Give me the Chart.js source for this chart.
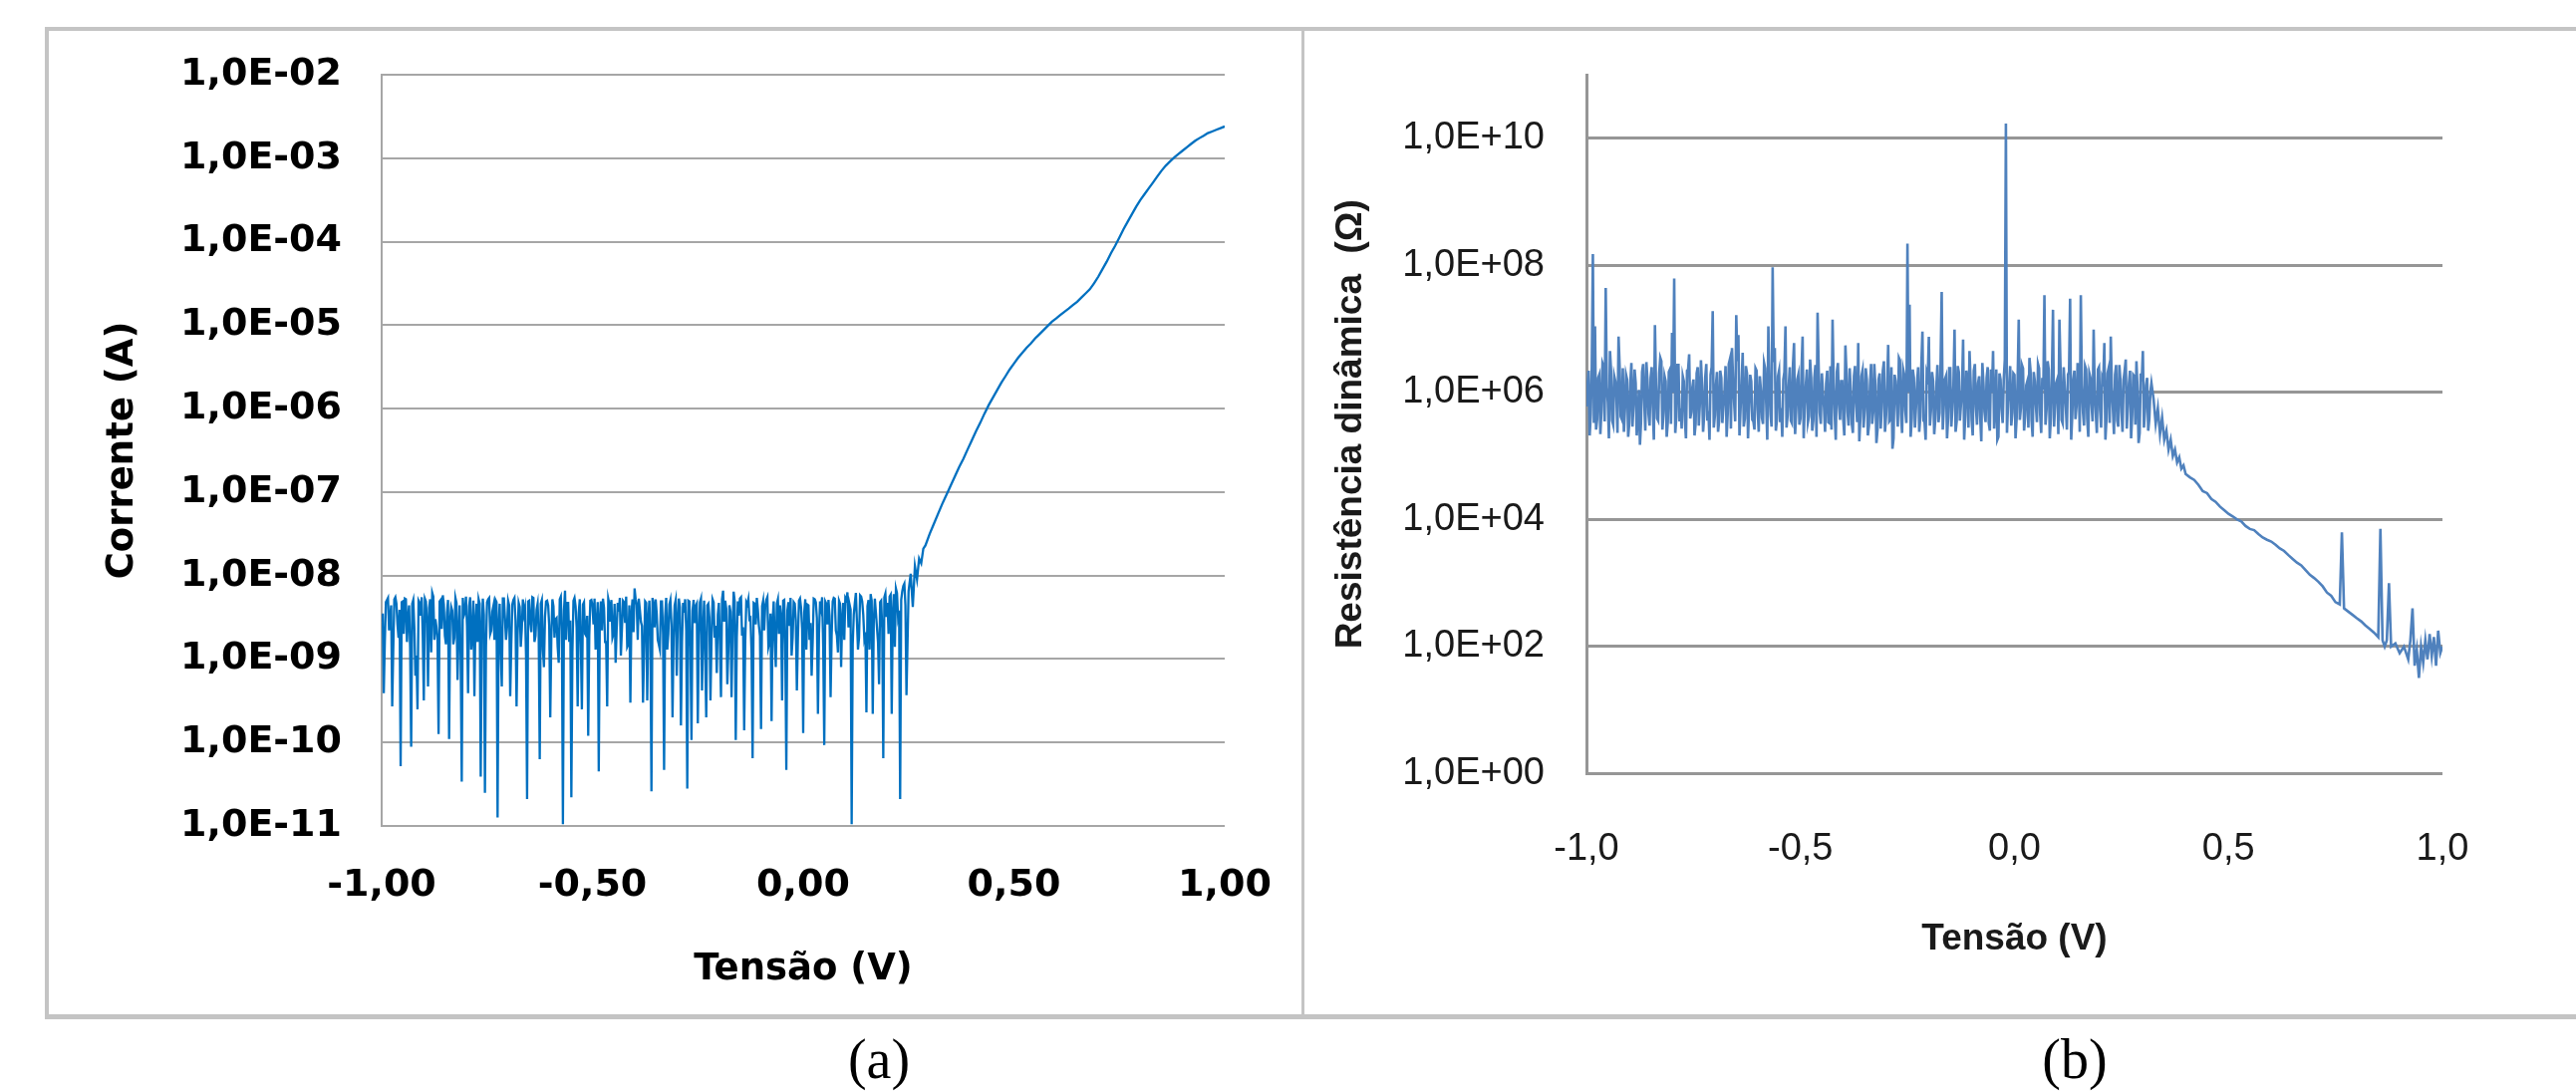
<!DOCTYPE html>
<html><head><meta charset="utf-8">
<script src="https://cdn.jsdelivr.net/npm/chart.js@4.4.1/dist/chart.umd.min.js"></script>
<style>
html,body{margin:0;padding:0;background:#fff;width:2585px;height:1095px;overflow:hidden;}
#frame{position:absolute;left:45px;top:27px;width:2536px;height:987px;border:4px solid #c4c4c4;border-right:none;border-bottom-width:5px;}
#sep{position:absolute;left:1306px;top:27px;width:3px;height:996px;background:#c4c4c4;}
#boxA{position:absolute;left:50px;top:32px;width:1255px;height:985px;}
#boxB{position:absolute;left:1312px;top:32px;width:1265px;height:985px;}
.cap{position:absolute;top:1031px;font-family:'Liberation Serif','Times New Roman',serif;font-size:56px;line-height:64px;width:200px;text-align:center;color:#000;}
</style></head>
<body>
<div id="frame"></div><div id="sep"></div>
<div id="boxA"><canvas id="cA"></canvas></div>
<div id="boxB"><canvas id="cB"></canvas></div>
<div class="cap" style="left:782px">(a)</div>
<div class="cap" style="left:1982px">(b)</div>
<script>
// ---------- axis ticks / labels ----------
const xTicks = [-1, -0.5, 0, 0.5, 1];
const xLabelsA = ['-1,00', '-0,50', '0,00', '0,50', '1,00'];
const xLabelsB = ['-1,0', '-0,5', '0,0', '0,5', '1,0'];
const yTicksA = [1e-11, 1e-10, 1e-9, 1e-8, 1e-7, 1e-6, 1e-5, 1e-4, 1e-3, 1e-2];
const yLabelsA = ['1,0E-11', '1,0E-10', '1,0E-09', '1,0E-08', '1,0E-07', '1,0E-06', '1,0E-05', '1,0E-04', '1,0E-03', '1,0E-02'];
const yTicksB = [1, 1e2, 1e4, 1e6, 1e8, 1e10];
const yLabelsB = ['1,0E+00', '1,0E+02', '1,0E+04', '1,0E+06', '1,0E+08', '1,0E+10'];

// ---------- (a) current, noisy part: samples every 5 mV from -1.000 V ----------
const noiseStartA = -1.0, noiseStepA = 0.005;
const noiseA = [
 2.8e-9, 3.9e-10, 4.8e-9, 5.4e-9, 3.1e-9, 2.7e-10, 5.2e-9, 4.6e-9, 1.8e-9, 5.2e-11,
 4.9e-9, 5.3e-9, 1.6e-9, 4.4e-9, 8.9e-11, 5.1e-9, 6.3e-10, 2.5e-10, 4.7e-9, 5.5e-9,
 3.2e-10, 4.9e-9, 4.7e-10, 5.2e-9, 6.2e-9, 1.7e-9, 2.4e-9, 1.26e-10, 5.1e-9, 5.8e-9,
 1.9e-9, 3.6e-9, 1.1e-10, 4.2e-9, 1.5e-9, 5.4e-9, 5.6e-10, 4.4e-9, 3.4e-11, 3.3e-9,
 5.6e-9, 3.9e-10, 5.5e-9, 2.0e-9, 3.6e-10, 4.6e-9, 5.2e-9, 3.9e-11, 5.3e-9, 2.5e-11,
 4.8e-9, 5.4e-9, 2.2e-9, 4.3e-9, 5.1e-9, 1.26e-11, 4.6e-9, 4.7e-10, 5.3e-9, 1.7e-9,
 5.0e-9, 3.6e-10, 4.5e-9, 5.4e-9, 2.7e-10, 4.7e-9, 1.4e-9, 5.2e-9, 4.1e-9, 2.1e-11,
 5.0e-9, 2.1e-9, 5.4e-9, 1.9e-9, 4.6e-9, 6.3e-11, 5.1e-9, 8e-10, 4.9e-9, 4.4e-9,
 2e-10, 5.2e-9, 1.8e-9, 3.1e-9, 9e-10, 5.6e-9, 1.05e-11, 6.6e-9, 4.7e-9, 1.6e-9,
 2.2e-11, 5.0e-9, 4.3e-9, 2.7e-10, 5.2e-9, 2.5e-10, 4.8e-9, 1.9e-9, 1.2e-10, 5.0e-9,
 4.4e-9, 5.3e-9, 2.6e-9, 4.5e-11, 4.9e-9, 5.3e-9, 1.6e-9, 2.7e-10, 4.6e-9, 5.1e-9,
 2.0e-9, 9e-10, 4.7e-9, 5.4e-9, 2.3e-9, 4.8e-9, 5.6e-9, 1.5e-9, 3e-10, 5.2e-9,
 7e-9, 4.5e-9, 5.3e-9, 2.8e-9, 3e-10, 4.9e-9, 3.2e-10, 5.0e-9, 2.6e-11, 4.6e-9,
 5.2e-9, 1.7e-9, 1.3e-9, 4.9e-9, 4.7e-11, 5.4e-9, 2.0e-9, 5.1e-9, 2e-10, 4.4e-9,
 6.3e-10, 5.3e-9, 1.6e-10, 4.7e-9, 5.2e-9, 2.8e-11, 4.9e-9, 1.07e-10, 5.1e-9, 4.3e-9,
 1.7e-10, 4.8e-9, 4.2e-10, 5.0e-9, 2e-10, 4.6e-9, 3.2e-10, 5.2e-9, 1.8e-9, 6.8e-10,
 4.7e-9, 3.5e-10, 6.6e-9, 5.0e-9, 5e-10, 4.4e-9, 3.5e-10, 6.4e-9, 1.07e-10, 4.9e-9,
 5.3e-9, 1.9e-9, 1.4e-10, 4.8e-9, 5.2e-9, 3.1e-9, 6.5e-11, 4.6e-9, 5.4e-9, 2.5e-9,
 1.45e-10, 5.0e-9, 4.3e-9, 5.5e-9, 1.6e-9, 1.8e-10, 4.9e-9, 8e-10, 5.2e-9, 4.4e-9,
 3.2e-10, 5.1e-9, 4.7e-11, 4.8e-9, 5.4e-9, 1.8e-9, 4.6e-9, 4.2e-10, 5.0e-9, 4.1e-9,
 1.3e-10, 5.2e-9, 4.5e-9, 1.7e-9, 6.3e-10, 5.3e-9, 4.8e-9, 2.2e-10, 4.9e-9, 5.5e-9,
 9.3e-11, 4.6e-9, 5.1e-9, 3.5e-10, 4.9e-9, 5.3e-9, 1.9e-9, 5.0e-9, 8e-10, 4.7e-9,
 5.4e-9, 6.3e-9, 4.5e-9, 1.05e-11, 3.4e-9, 6.2e-9, 1.3e-9, 5.8e-9, 4.9e-9, 1.8e-9,
 2.3e-10, 5.1e-9, 6.0e-9, 2.2e-10, 5.3e-9, 2.4e-9, 5e-10, 5.0e-9, 6.5e-11, 6.1e-9,
 4.7e-9, 5.6e-9, 2.2e-10, 6.0e-9, 7.0e-9, 3.2e-9, 2.1e-11, 6.5e-9, 8.0e-9, 3.7e-10
];
// (a) noisy part, in-between samples (from -0.9975 V, every 5 mV)
const noiseMidStartA = -0.9975;
const noiseMidA = [
 3.5e-9, 1.6e-9, 5.1e-9, 2.2e-9, 4.4e-9, 1.3e-9, 5.5e-9, 2.6e-9, 3.9e-9, 4.8e-9,
 2.0e-9, 5.2e-9, 3.1e-9, 1.4e-9, 4.6e-9, 2.4e-9, 1.1e-9, 5.0e-9, 3.3e-9, 1.9e-9,
 5.3e-9, 2.7e-9, 4.1e-9, 1.2e-9, 5.6e-9, 3.0e-9, 1.7e-9, 4.9e-9, 2.3e-9, 4.5e-9,
 1.5e-9, 5.1e-9, 2.9e-9, 3.8e-9, 1.8e-9, 4.7e-9, 2.1e-9, 1.0e-9, 5.4e-9, 3.6e-9,
 2.5e-9, 4.3e-9, 1.3e-9, 5.0e-9, 2.8e-9, 1.6e-9, 4.6e-9, 2.2e-9, 3.4e-9, 1.4e-9,
 5.2e-9, 2.0e-9, 3.7e-9, 1.7e-9, 4.8e-9, 2.6e-9, 1.2e-9, 5.3e-9, 3.1e-9, 2.4e-9,
 4.4e-9, 1.5e-9, 5.1e-9, 2.9e-9, 1.9e-9, 4.2e-9, 2.3e-9, 3.5e-9, 1.1e-9, 4.9e-9,
 2.7e-9, 5.5e-9, 1.6e-9, 3.9e-9, 2.1e-9, 4.6e-9, 1.3e-9, 3.2e-9, 5.0e-9, 2.5e-9,
 1.8e-9, 4.3e-9, 3.0e-9, 1.4e-9, 5.2e-9, 2.2e-9, 3.8e-9, 1.7e-9, 4.7e-9, 2.9e-9,
 1.2e-9, 5.4e-9, 2.4e-9, 3.6e-9, 1.5e-9, 4.5e-9, 2.0e-9, 3.3e-9, 1.9e-9, 5.1e-9,
 2.6e-9, 1.3e-9, 4.8e-9, 3.1e-9, 2.2e-9, 4.1e-9, 1.6e-9, 5.3e-9, 2.8e-9, 1.8e-9,
 4.6e-9, 2.3e-9, 3.7e-9, 1.1e-9, 5.0e-9, 2.7e-9, 1.4e-9, 4.4e-9, 3.4e-9, 2.1e-9,
 5.2e-9, 1.7e-9, 3.9e-9, 2.5e-9, 1.2e-9, 4.7e-9, 3.0e-9, 1.9e-9, 5.4e-9, 2.4e-9,
 3.5e-9, 1.5e-9, 4.9e-9, 2.0e-9, 3.2e-9, 1.3e-9, 4.5e-9, 2.6e-9, 1.8e-9, 5.1e-9,
 2.9e-9, 4.2e-9, 1.6e-9, 3.6e-9, 2.2e-9, 5.0e-9, 1.4e-9, 3.8e-9, 2.7e-9, 4.6e-9,
 1.9e-9, 5.3e-9, 2.3e-9, 1.1e-9, 4.4e-9, 3.1e-9, 1.7e-9, 4.8e-9, 2.5e-9, 3.4e-9,
 1.5e-9, 5.2e-9, 2.8e-9, 4.0e-9, 1.3e-9, 3.7e-9, 2.1e-9, 4.9e-9, 1.8e-9, 3.3e-9,
 5.5e-9, 2.4e-9, 1.6e-9, 4.5e-9, 3.0e-9, 1.2e-9, 4.7e-9, 2.6e-9, 3.9e-9, 1.9e-9,
 4.3e-9, 2.2e-9, 5.1e-9, 1.4e-9, 3.5e-9, 2.8e-9, 1.7e-9, 4.6e-9, 2.0e-9, 3.2e-9,
 5.0e-9, 1.5e-9, 3.8e-9, 2.5e-9, 1.1e-9, 4.8e-9, 2.9e-9, 1.8e-9, 5.3e-9, 2.3e-9,
 3.6e-9, 1.3e-9, 4.4e-9, 2.7e-9, 1.6e-9, 5.2e-9, 3.1e-9, 2.0e-9, 4.1e-9, 1.4e-9,
 4.9e-9, 2.6e-9, 3.3e-9, 1.9e-9, 5.4e-9, 2.2e-9, 1.2e-9, 4.6e-9, 3.0e-9, 1.7e-9,
 5.1e-9, 2.4e-9, 3.9e-9, 1.5e-9, 4.7e-9, 2.8e-9, 1.8e-9, 5.6e-9, 3.4e-9, 2.1e-9,
 4.3e-9, 1.3e-9, 5.0e-9, 2.9e-9, 3.6e-9, 1.6e-9, 4.8e-9, 2.3e-9, 5.5e-9, 3.2e-9,
 2.0e-9, 5.9e-9, 3.5e-9, 1.4e-9, 6.2e-9, 3.8e-9, 5.1e-9, 7.5e-9, 4.4e-9
];
// (a) rising part
const voltsCurveA = [0.25, 0.255, 0.26, 0.265, 0.27, 0.275, 0.28, 0.285, 0.29,
 0.30, 0.31, 0.32, 0.33, 0.34, 0.35, 0.36, 0.37, 0.38, 0.39,
 0.40, 0.41, 0.42, 0.43, 0.44, 0.45, 0.46, 0.47, 0.48, 0.49,
 0.50, 0.51, 0.52, 0.53, 0.54, 0.55, 0.56, 0.57, 0.58, 0.59,
 0.60, 0.61, 0.62, 0.63, 0.64, 0.65, 0.66, 0.67, 0.68, 0.69,
 0.70, 0.71, 0.72, 0.73, 0.74, 0.75, 0.76, 0.77, 0.78, 0.79,
 0.80, 0.81, 0.82, 0.83, 0.84, 0.85, 0.86, 0.87, 0.88, 0.89,
 0.90, 0.91, 0.92, 0.93, 0.94, 0.95, 0.96, 0.97, 0.98, 0.99, 1.00];
const currCurveA = [6.5e-9, 1.05e-8, 4.2e-9, 1.3e-8, 9e-9, 1.6e-8, 1.4e-8, 2.1e-8, 2.3e-8,
 3.16e-8, 4.17e-8, 5.5e-8, 7.24e-8, 9.33e-8, 1.2e-7, 1.55e-7, 2.0e-7, 2.51e-7, 3.24e-7,
 4.17e-7, 5.37e-7, 6.76e-7, 8.71e-7, 1.1e-6, 1.35e-6, 1.66e-6, 2.04e-6, 2.45e-6, 2.95e-6,
 3.47e-6, 4.07e-6, 4.68e-6, 5.37e-6, 6.03e-6, 6.92e-6, 7.76e-6, 8.71e-6, 9.77e-6, 1.1e-5,
 1.2e-5, 1.32e-5, 1.45e-5, 1.58e-5, 1.74e-5, 1.91e-5, 2.14e-5, 2.4e-5, 2.69e-5, 3.16e-5,
 3.8e-5, 4.68e-5, 5.75e-5, 7.24e-5, 8.91e-5, 1.12e-4, 1.41e-4, 1.74e-4, 2.14e-4, 2.63e-4,
 3.16e-4, 3.72e-4, 4.37e-4, 5.13e-4, 6.03e-4, 7.08e-4, 8.13e-4, 9.12e-4, 1.02e-3, 1.12e-3,
 1.23e-3, 1.35e-3, 1.48e-3, 1.62e-3, 1.74e-3, 1.86e-3, 2.0e-3, 2.09e-3, 2.19e-3, 2.29e-3, 2.4e-3];

// ---------- (b) dynamic resistance, noisy part: every 5 mV from -1.000 V ----------
const noiseStartB = -1.0, noiseStepB = 0.005;
const noiseB = [
 6.0e5, 2.2e6, 4.5e5, 1.5e8, 1.1e7, 3.8e5, 1.9e6, 5.2e5, 2.6e6, 4.4e7,
 7.0e5, 4.5e6, 3.6e5, 1.8e6, 9.0e5, 7.6e6, 4.2e5, 2.4e6, 5.5e5, 1.6e6,
 3.3e5, 2.9e6, 6.5e5, 1.4e6, 4.0e5, 1.5e5, 2.1e6, 7.5e5, 3.0e6, 4.6e5,
 1.7e6, 5.8e5, 1.15e7, 3.9e5, 2.0e6, 3.1e6, 4.8e5, 1.5e6, 3.4e5, 2.3e6,
 8.7e6, 6.2e7, 4.1e5, 2.7e6, 5.6e5, 1.8e6, 3.7e5, 2.2e6, 4.0e6, 4.9e5,
 1.6e6, 3.2e5, 2.5e6, 6.8e5, 1.3e6, 4.4e5, 2.8e6, 5.1e5, 1.9e6, 1.9e7,
 4.3e5, 2.1e6, 3.6e5, 1.7e6, 6.0e5, 2.6e6, 4.7e5, 3.3e6, 5.0e6, 7.0e5,
 1.65e7, 8.0e6, 5.5e5, 4.2e6, 3.9e5, 2.0e6, 6.2e5, 1.5e6, 3.5e5, 2.4e6,
 5.3e5, 1.8e6, 4.0e5, 2.9e6, 6.6e5, 1.1e7, 4.5e5, 9.3e7, 5.0e6, 3.8e5,
 2.2e6, 5.7e5, 1.6e6, 1.1e7, 4.4e5, 2.5e6, 3.3e5, 6.0e6, 5.2e5, 1.9e6,
 3.9e5, 7.6e6, 6.1e5, 2.3e6, 4.2e5, 1.7e6, 3.6e5, 2.7e6, 1.8e7, 4.8e5,
 2.0e6, 5.9e5, 1.4e6, 3.4e5, 2.6e6, 1.4e7, 4.6e5, 2.1e6, 6.3e5, 1.5e6,
 3.8e5, 5.5e6, 5.0e5, 2.4e6, 3.2e5, 1.8e6, 6.7e5, 6.0e6, 4.1e5, 2.2e6,
 5.4e5, 1.6e6, 3.0e5, 2.8e6, 4.9e5, 1.3e6, 2.6e5, 2.0e6, 5.8e5, 3.1e6,
 4.3e5, 5.6e6, 3.7e5, 1.3e5, 1.9e6, 6.4e5, 3.5e6, 4.5e5, 2.3e6, 5.2e5,
 2.2e8, 2.4e7, 3.9e5, 1.7e6, 6.0e5, 2.5e6, 4.1e5, 9.1e6, 3.4e5, 2.0e6,
 7.5e6, 5.3e5, 1.5e6, 3.8e5, 2.7e6, 4.7e5, 3.8e7, 6.2e5, 1.8e6, 4.0e5,
 2.4e6, 5.6e5, 9.8e6, 3.5e5, 2.1e6, 6.5e5, 6.8e6, 4.4e5, 1.6e6, 4.5e6,
 3.7e5, 2.2e6, 5.9e5, 1.4e6, 4.2e5, 2.9e6, 5.0e5, 1.7e6, 3.3e5, 2.3e6,
 4.5e6, 6.1e5, 1.8e5, 2.0e6, 5.4e5, 1.6e6, 1.7e10, 7.0e5, 2.6e6, 4.8e5,
 1.9e6, 3.9e5, 1.4e7, 5.7e5, 2.4e6, 4.3e5, 1.5e6, 3.5e6, 3.6e5, 2.1e6,
 6.3e5, 2.8e6, 4.6e5, 1.7e6, 3.4e7, 5.5e5, 2.3e6, 4.0e5, 2.0e7, 6.8e5,
 1.6e6, 1.4e7, 3.7e5, 2.5e6, 5.9e5, 1.9e6, 3.0e7, 4.4e5, 2.2e6, 6.1e5,
 1.8e6, 3.4e7, 5.0e5, 2.6e6, 3.8e5, 2.0e6, 6.6e5, 9.8e6, 4.7e5, 2.3e6,
 5.3e5, 1.7e6, 6.0e6, 4.0e5, 2.4e6, 7.6e6, 5.6e5, 1.9e6, 3.6e5, 2.7e6,
 4.9e5, 1.6e6, 3.3e6, 6.4e5, 2.2e6, 4.4e5, 1.8e6, 3.1e6, 1.6e5, 2.0e6,
 4.5e6, 5.1e5, 1.7e6, 3.8e5, 1.4e6
];
// (b) noisy part, in-between samples (from -0.9975 V, every 5 mV)
const noiseMidStartB = -0.9975;
const noiseMidB = [
 1.3e6, 2.1e5, 2.4e6, 3.3e5, 2.6e5, 1.7e6, 2.2e5, 2.9e6, 3.5e5, 1.2e6,
 1.9e5, 2.2e6, 3.1e5, 1.5e6, 2.3e5, 2.6e6, 3.8e5, 2.4e5, 1.9e6, 2.0e5,
 1.4e6, 2.9e5, 2.3e6, 2.1e5, 1.1e6, 3.4e5, 2.8e6, 2.5e5, 1.6e6, 3.0e5,
 2.5e6, 1.8e5, 1.3e6, 3.6e5, 3.5e6, 2.6e5, 1.8e6, 2.0e5, 2.1e6, 3.2e5,
 1.0e6, 2.3e5, 2.7e6, 3.5e5, 2.7e5, 1.5e6, 1.9e5, 2.3e6, 3.9e5, 1.2e6,
 2.1e5, 2.0e6, 3.0e5, 3.2e6, 2.4e5, 1.7e6, 3.6e5, 1.8e5, 2.5e6, 2.8e5,
 1.3e6, 2.4e5, 2.2e6, 3.3e5, 1.0e6, 2.0e5, 2.8e6, 2.7e5, 1.6e6, 3.5e5,
 3.1e6, 2.1e5, 1.4e6, 2.9e5, 2.6e6, 1.9e5, 1.9e6, 3.7e5, 2.6e5, 2.2e6,
 2.4e5, 1.1e6, 3.2e5, 2.4e6, 1.8e5, 1.5e6, 2.9e5, 3.0e6, 2.5e5, 1.8e6,
 3.4e5, 2.0e5, 2.1e6, 2.8e5, 1.2e6, 3.6e5, 2.7e6, 2.2e5, 1.6e6, 3.1e5,
 2.3e6, 1.9e5, 1.3e6, 3.4e5, 3.3e6, 2.5e5, 1.7e6, 2.0e5, 2.5e6, 3.2e5,
 1.0e6, 2.4e5, 2.2e6, 3.3e5, 2.6e5, 1.4e6, 1.8e5, 2.9e6, 3.7e5, 1.5e6,
 2.1e5, 2.0e6, 3.0e5, 1.1e6, 2.3e5, 2.6e6, 3.4e5, 1.7e5, 1.8e6, 2.8e5,
 2.4e6, 2.1e5, 1.3e6, 3.2e5, 2.8e6, 1.6e5, 1.6e6, 2.7e5, 2.2e6, 2.4e5,
 1.2e6, 3.5e5, 2.5e6, 1.9e5, 1.5e6, 2.9e5, 3.2e6, 2.3e5, 1.9e6, 3.3e5,
 1.0e6, 2.0e5, 2.3e6, 2.8e5, 1.4e6, 2.4e5, 2.7e6, 3.6e5, 1.8e5, 1.7e6,
 3.0e5, 2.1e6, 2.2e5, 1.2e6, 3.4e5, 3.0e6, 2.6e5, 1.6e6, 1.9e5, 2.4e6,
 2.9e5, 1.3e6, 2.4e5, 2.6e6, 3.6e5, 1.1e6, 1.8e5, 2.2e6, 2.8e5, 1.5e6,
 2.1e5, 2.8e6, 3.1e5, 1.8e6, 1.7e5, 1.4e6, 3.4e5, 2.5e6, 2.5e5, 1.0e6,
 2.7e5, 2.3e6, 2.0e5, 1.6e6, 3.3e5, 3.3e6, 2.3e5, 1.2e6, 3.0e5, 2.0e6,
 1.9e5, 1.7e6, 3.7e5, 2.7e6, 2.5e5, 1.3e6, 2.8e5, 2.2e6, 2.0e5, 1.5e6,
 3.4e5, 2.4e6, 2.3e5, 1.1e6, 3.1e5, 3.1e6, 1.9e5, 1.8e6, 2.9e5, 1.4e6,
 2.2e5, 2.6e6, 3.3e5, 1.2e6, 2.6e5, 2.1e6, 1.8e5, 1.6e6, 3.8e5, 2.9e6,
 2.4e5, 1.3e6, 3.0e5, 2.3e6, 2.0e5, 1.7e6, 3.5e5, 1.0e6, 2.3e5, 2.5e6,
 2.8e5, 1.5e6, 1.8e5, 2.0e6, 3.3e5, 1.2e6, 2.2e5, 2.7e6, 2.9e5, 1.6e6,
 2.4e5, 2.2e6, 2.7e5, 1.4e6, 1.9e5, 1.9e6, 3.1e5, 1.1e6, 2.3e5, 1.5e6,
 2.8e5, 1.3e6, 2.5e5, 1.0e6
];
// (b) falling tail
const voltsTailB = [0.325, 0.33, 0.335, 0.34, 0.345, 0.35, 0.355, 0.36, 0.365, 0.37, 0.375, 0.38, 0.385, 0.39, 0.395,
 0.40, 0.41, 0.42, 0.43, 0.44, 0.45, 0.46, 0.47, 0.48, 0.49,
 0.50, 0.51, 0.52, 0.53, 0.54, 0.55, 0.56, 0.57, 0.58, 0.59,
 0.60, 0.61, 0.62, 0.63, 0.64, 0.65, 0.66, 0.67, 0.68, 0.69,
 0.70, 0.71, 0.72, 0.73, 0.74, 0.75, 0.76, 0.765, 0.77, 0.78, 0.79,
 0.80, 0.81, 0.82, 0.83, 0.84, 0.85, 0.855, 0.86, 0.865, 0.87, 0.875, 0.88, 0.89,
 0.90, 0.91, 0.92, 0.925, 0.93, 0.935, 0.94, 0.945, 0.95, 0.955, 0.96, 0.965, 0.97, 0.975, 0.98, 0.985, 0.99, 0.995, 1.00];
const resTailB = [7.9e5, 3.2e5, 5.6e5, 2.2e5, 4.0e5, 1.8e5, 2.5e5, 1.26e5, 1.8e5, 1.0e5, 1.26e5, 7.9e4, 9.5e4, 6.3e4, 7.1e4,
 5.2e4, 4.6e4, 4.2e4, 3.5e4, 2.8e4, 2.6e4, 2.1e4, 1.9e4, 1.6e4, 1.4e4,
 1.23e4, 1.12e4, 1.0e4, 9.3e3, 7.9e3, 7.1e3, 6.8e3, 5.9e3, 5.2e3, 4.8e3,
 4.5e3, 4.0e3, 3.5e3, 3.2e3, 2.75e3, 2.4e3, 2.1e3, 1.9e3, 1.6e3, 1.35e3,
 1.2e3, 1.05e3, 890, 710, 630, 500, 460, 6300, 400, 355, 316,
 280, 250, 215, 190, 166, 141, 7100, 126, 100, 126, 1000, 100, 112,
 79, 100, 63, 126, 400, 50, 89, 32, 100, 56, 126, 63, 158, 71, 141, 50, 178, 79, 100];

// ---------- build point lists ----------
function buildPoints(start, step, noise, midStart, mid, volts, vals) {
  const pts = noise.map((v, i) => ({x: +(start + i * step).toFixed(4), y: v}));
  mid.forEach((v, i) => pts.push({x: +(midStart + i * step).toFixed(4), y: v}));
  volts.forEach((x, i) => pts.push({x: x, y: vals[i]}));
  pts.sort((a, b) => a.x - b.x);
  return pts;
}
const ptsA = buildPoints(noiseStartA, noiseStepA, noiseA, noiseMidStartA, noiseMidA, voltsCurveA, currCurveA);
const ptsB = buildPoints(noiseStartB, noiseStepB, noiseB, noiseMidStartB, noiseMidB, voltsTailB, resTailB);

function zeroPad(s) { s.paddingTop = 0; s.paddingBottom = 0; s.paddingLeft = 0; s.paddingRight = 0; }

function makeChart(id, pts, c) {
  return new Chart(document.getElementById(id), {
    type: 'line',
    data: {datasets: [{data: pts, borderColor: c.color, borderWidth: c.lw, pointRadius: 0, tension: 0, fill: false}]},
    options: {
      animation: false, responsive: true, maintainAspectRatio: false,
      layout: {padding: {top: c.padTop, right: c.padRight, left: 0, bottom: 0}},
      plugins: {legend: {display: false}, tooltip: {enabled: false}},
      events: [],
      scales: {
        x: {
          type: 'linear', min: -1, max: 1,
          grid: {display: false, drawTicks: false},
          border: {display: false},
          afterBuildTicks: s => { s.ticks = xTicks.map(v => ({value: v})); },
          afterFit: s => { s.height = c.xH; zeroPad(s); },
          ticks: {padding: c.xPad, color: c.textColor, font: c.tickFont, maxRotation: 0, autoSkip: false,
                  callback: (v, i) => c.xLabels[i]},
          title: {display: true, text: 'Tensão (V)', color: c.textColor, font: c.titleFont,
                  padding: {top: 0, bottom: c.xTitlePad}}
        },
        y: {
          type: 'logarithmic', min: c.ymin, max: c.ymax,
          grid: {color: c.gridColor, lineWidth: c.gridW, drawTicks: false},
          border: {display: true, color: c.gridColor, width: c.gridW},
          afterBuildTicks: s => { s.ticks = c.yTicks.map(v => ({value: v})); },
          afterFit: s => { s.width = c.yW; zeroPad(s); },
          ticks: {padding: c.yPad, color: c.textColor, font: c.tickFont, autoSkip: false,
                  callback: (v, i) => c.yLabels[i]},
          title: {display: true, text: c.yTitle, color: c.textColor, font: c.titleFont,
                  padding: {top: c.yTitlePad, bottom: 0}}
        }
      }
    }
  });
}

makeChart('cA', ptsA, {
  color: '#0070C0', lw: 2.3, padTop: 43, padRight: 76, xH: 188, yW: 333,
  xPad: 37, yPad: 40, xTitlePad: 21, yTitlePad: 51,
  textColor: '#000', gridColor: '#a6a6a6', gridW: 2,
  tickFont: {family: "'DejaVu Sans', Verdana, sans-serif", size: 38, weight: 'bold'},
  titleFont: {family: "'DejaVu Sans', Verdana, sans-serif", size: 37, weight: 'bold'},
  xLabels: xLabelsA, yTicks: yTicksA, yLabels: yLabelsA, ymin: 1e-11, ymax: 1e-2,
  yTitle: 'Corrente (A)'
});

makeChart('cB', ptsB, {
  color: '#4F81BD', lw: 2.6, padTop: 43, padRight: 126, xH: 240.5, yW: 280,
  xPad: 53, yPad: 42, xTitlePad: 52, yTitlePad: 22,
  textColor: '#1a1a1a', gridColor: '#969696', gridW: 3,
  tickFont: {family: "'Liberation Sans', Arial, sans-serif", size: 38, weight: 'normal'},
  titleFont: {family: "'Liberation Sans', Arial, sans-serif", size: 37, weight: 'bold'},
  xLabels: xLabelsB, yTicks: yTicksB, yLabels: yLabelsB, ymin: 1, ymax: 1e11,
  yTitle: 'Resistência dinâmica  (Ω)'
});
</script>
</body></html>
